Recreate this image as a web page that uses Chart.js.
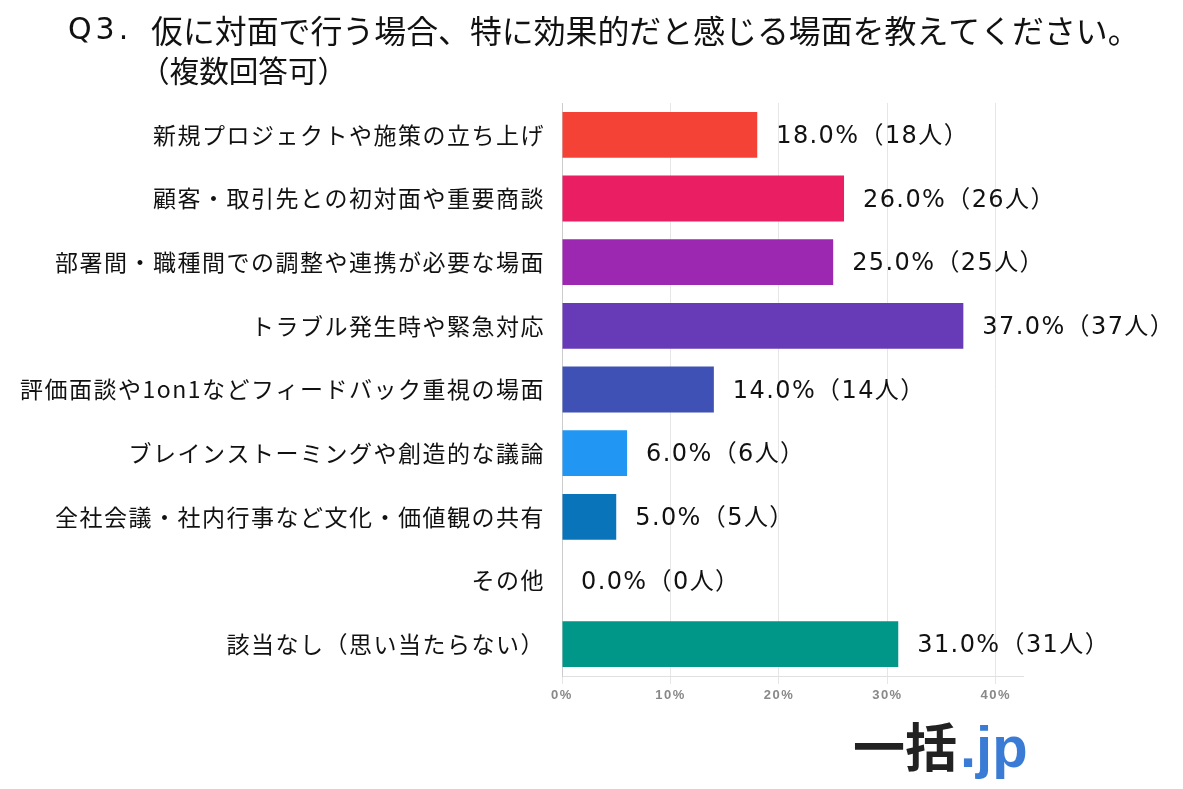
<!DOCTYPE html>
<html><head><meta charset="utf-8">
<script src="https://cdn.jsdelivr.net/npm/chart.js@4/dist/chart.umd.min.js"></script>
<style>html,body{margin:0;padding:0;background:#fff;}#wrap{width:1183px;height:789px;position:relative;}</style>
</head><body><div id="wrap"><canvas id="c" width="1183" height="789"></canvas></div>
<script>
const categories = [
  "新規プロジェクトや施策の立ち上げ",
  "顧客・取引先との初対面や重要商談",
  "部署間・職種間での調整や連携が必要な場面",
  "トラブル発生時や緊急対応",
  "評価面談や1on1などフィードバック重視の場面",
  "ブレインストーミングや創造的な議論",
  "全社会議・社内行事など文化・価値観の共有",
  "その他",
  "該当なし（思い当たらない）"
];
const percents = [18.0, 26.0, 25.0, 37.0, 14.0, 6.0, 5.0, 0.0, 31.0];
const counts = [18, 26, 25, 37, 14, 6, 5, 0, 31];
const barColors = ["#F44336","#E91E63","#9C27B0","#673AB7","#3F51B5","#2196F3","#0A74BB","#9E9E9E","#009688"];
const tickValues = [0, 10, 20, 30, 40];
const titleQ = "Q3.";
const titleLine1 = "仮に対面で行う場合、特に効果的だと感じる場面を教えてください。";
const titleLine2 = "（複数回答可）";
const logoMain = "一括";
const logoSuffix = ".jp";

const JP = '"Noto Sans CJK JP", "Noto Sans", sans-serif';
const LAT = '"Liberation Sans", Arial, sans-serif';
const DJ = '"DejaVu Sans", "Noto Sans CJK JP", sans-serif';

const spacingPlugin = {
  id: 'spacing',
  beforeLayout(chart) { chart.ctx.letterSpacing = '1.5px'; },
  beforeDraw(chart) { chart.ctx.letterSpacing = '1.5px'; }
};

const titlePlugin = {
  id: 'titleDraw',
  afterDraw(chart) {
    const ctx = chart.ctx;
    ctx.save();
    ctx.fillStyle = '#111';
    ctx.textBaseline = 'middle';
    ctx.textAlign = 'left';
    ctx.letterSpacing = '4px';
    ctx.font = '30px ' + DJ;
    ctx.fillText(titleQ, 68, 31);
    ctx.letterSpacing = '0px';
    ctx.font = '31.9px ' + JP;
    ctx.fillText(titleLine1, 151, 31);
    ctx.font = '29.6px ' + JP;
    ctx.fillText(titleLine2, 140, 71);
    // logo
    ctx.textBaseline = 'alphabetic';
    ctx.font = 'bold 52px ' + JP;
    ctx.fillStyle = '#222';
    ctx.fillText(logoMain, 853, 767);
    ctx.font = 'bold 58px ' + LAT;
    ctx.fillStyle = '#3A7BD5';
    ctx.fillText(logoSuffix, 960, 767);
    ctx.restore();
  }
};

const valueLabels = {
  id: 'valueLabels',
  afterDatasetsDraw(chart) {
    const ctx = chart.ctx;
    const meta = chart.getDatasetMeta(0);
    ctx.save();
    ctx.fillStyle = '#111';
    ctx.textBaseline = 'middle';
    ctx.textAlign = 'left';
    ctx.letterSpacing = '1.4px';
    ctx.font = '24px ' + DJ;
    meta.data.forEach((bar, i) => {
      const txt = percents[i].toFixed(1) + '%（' + counts[i] + '人）';
      ctx.fillText(txt, bar.x + 19, bar.y + 2);
    });
    ctx.restore();
  }
};

new Chart(document.getElementById('c'), {
  type: 'bar',
  data: {
    labels: categories,
    datasets: [{
      data: percents,
      backgroundColor: barColors,
      borderWidth: 0,
      barPercentage: 0.72,
      categoryPercentage: 1.0
    }]
  },
  plugins: [spacingPlugin, titlePlugin, valueLabels],
  options: {
    indexAxis: 'y',
    responsive: false,
    animation: false,
    devicePixelRatio: 1,
    layout: { padding: { top: 103, left: 0, right: 160, bottom: 0 } },
    plugins: { legend: { display: false }, tooltip: { enabled: false }, title: { display: false } },
    scales: {
      x: {
        min: 0, max: 42.5,
        afterBuildTicks(scale) { scale.ticks = tickValues.map(v => ({ value: v })); },
        afterFit(scale) { scale.height = 789 - 676; },
        grid: { color: '#e6e6e6', lineWidth: 1, tickLength: 8, drawTicks: true },
        border: { display: true, color: '#e0e0e0' },
        ticks: {
          color: '#888',
          font: { family: LAT, size: 13, weight: 'bold' },
          padding: 4,
          callback: v => v + '%'
        }
      },
      y: {
        afterFit(scale) { scale.width = 562; },
        grid: { display: false },
        border: { display: true, color: '#cccccc' },
        ticks: {
          color: '#111',
          font: { family: JP, size: 23 },
          padding: 9
        }
      }
    }
  }
});
</script></body></html>
